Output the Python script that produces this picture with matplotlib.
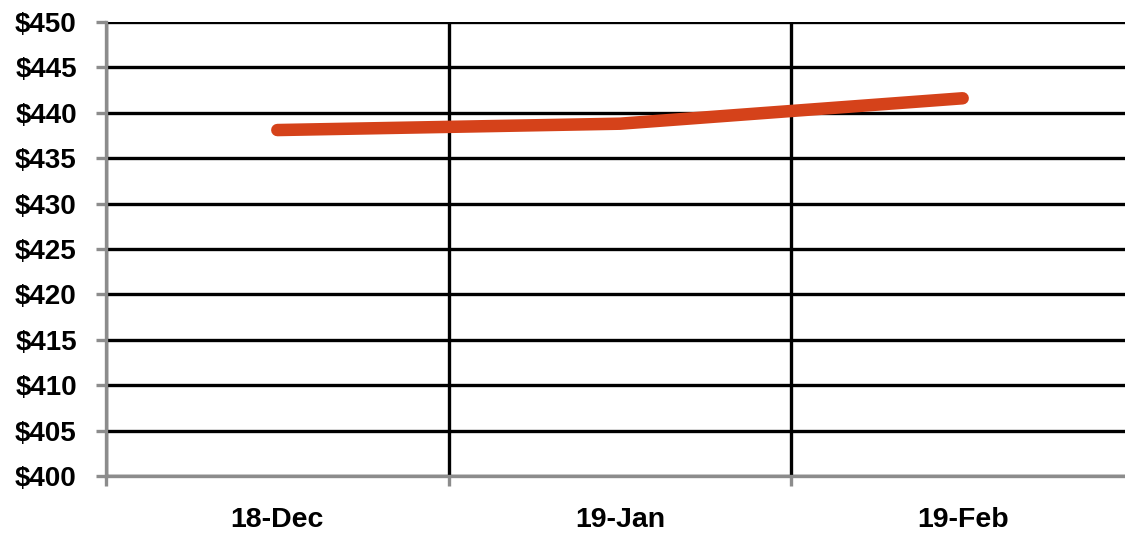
import matplotlib
matplotlib.use('Agg')
import matplotlib.pyplot as plt
from matplotlib.ticker import FuncFormatter

# datos
meses = ['18-Dec', '19-Jan', '19-Feb']
precio = [438.1, 438.8, 441.6]
yticks = list(range(400, 451, 5))

W, H = 1125, 536
fig = plt.figure(figsize=(W / 100, H / 100), dpi=100)
ax = fig.add_axes([106 / W, 1 - 476 / H, (1134 - 106) / W, (476 - 22) / H])

gris = '#8c8c8c'
ax.plot(range(len(meses)), precio, color='#D5421A', lw=9,
        solid_capstyle='round', solid_joinstyle='round', zorder=5)

ax.set_xlim(-0.5, len(meses) - 0.5)
ax.set_ylim(400, 450)
ax.set_yticks(yticks)
ax.yaxis.set_major_formatter(FuncFormatter(lambda v, p: '$%d' % v))
ax.set_xticks(range(len(meses)))
ax.set_xticklabels(meses)
ax.set_xticks([-0.5 + i for i in range(len(meses) + 1)], minor=True)

for s in ['top', 'right']:
    ax.spines[s].set_visible(False)
for s in ['left', 'bottom']:
    ax.spines[s].set_color(gris)
    ax.spines[s].set_linewidth(2.4)

ax.grid(axis='y', which='major', color='black', lw=2.4)
ax.grid(axis='x', which='minor', color='black', lw=2.4)
ax.grid(axis='x', which='major', visible=False)
ax.set_axisbelow(True)

fuente = ['Liberation Sans', 'DejaVu Sans']
ax.tick_params(axis='y', length=7, width=2.4, color=gris, pad=14,
               labelsize=20)
ax.tick_params(axis='x', which='major', length=0, pad=22, labelsize=20.5)
ax.tick_params(axis='x', which='minor', length=7, width=2.4, color=gris)
for t in ax.get_xticklabels() + ax.get_yticklabels():
    t.set_fontfamily(fuente)
    t.set_fontweight('bold')

fig.savefig('out.png', dpi=100)
